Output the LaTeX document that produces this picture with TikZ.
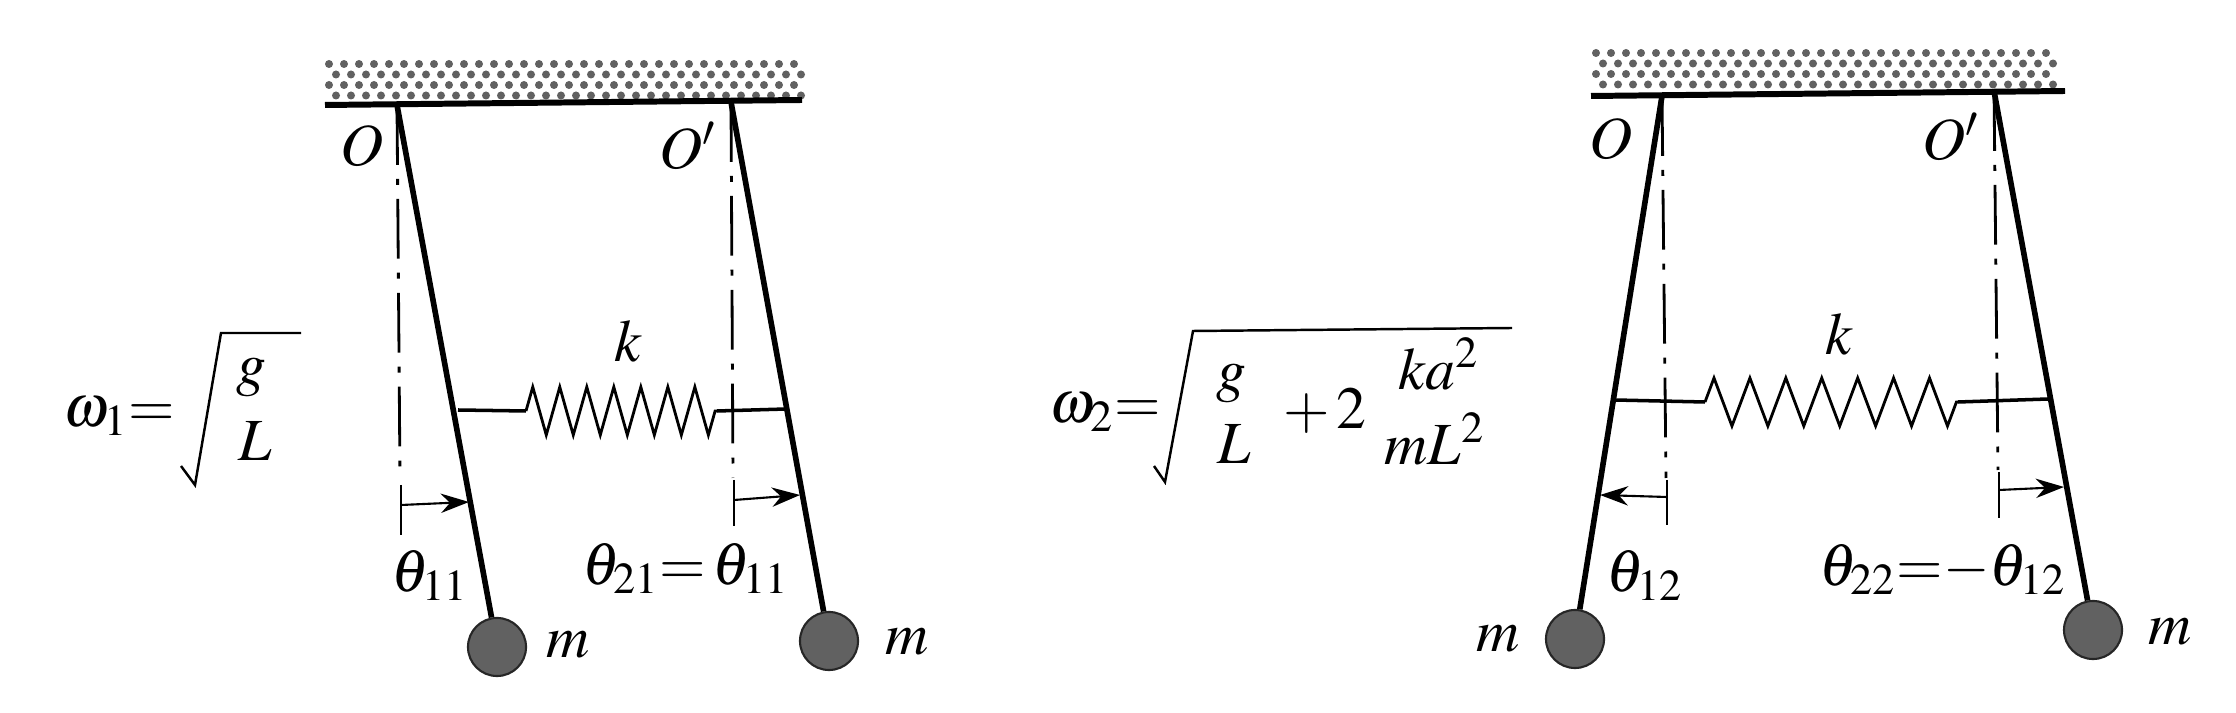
\documentclass[tikz,border=0pt]{standalone}
\usepackage{mathptmx}
\usetikzlibrary{decorations.pathmorphing,arrows.meta}
\tikzset{
  label/.style={inner sep=0pt,font=\fontsize{17}{20}\selectfont},
  rod/.style={line width=1.6pt},
  walldot/.style={fill=black!62},
  wallline/.style={line width=1.7pt},
  bob/.style={circle,draw=black!85,fill=black!62,line width=0.6pt,minimum size=0.58cm,inner sep=0pt},
  axisline/.style={line width=0.8pt,dash pattern=on 17pt off 4pt on 1.7pt off 4pt},
  thinline/.style={line width=0.7pt},
  stubline/.style={line width=1pt},
  springline/.style={line width=0.8pt,decorate,decoration={zigzag,amplitude=0.24cm,segment length=#1}},
  angle/.style={line width=0.6pt,-{Stealth[length=8pt,width=5.5pt]}},
}
\begin{document}
\begin{tikzpicture}[x=0.01cm,y=-0.01cm]
    \useasboundingbox (0,0) rectangle (2236,713);

    % Left pendulums
    \foreach \row/\shift in {0/0,1/7,2/0,3/7}
        \foreach \col in {0,...,31}
            \fill[walldot] ({329+\col*15+\shift},{64+\row*10.5}) circle (4);
    \coordinate (wallAl) at (325,105);
    \coordinate (wallAr) at (802,100);
    \draw[wallline] (wallAl) -- (wallAr);
    \coordinate (pivotA) at (397,105);
    \coordinate (pivotB) at (731,102);
    \node[bob] (bobA) at (497,647) {};
    \node[bob] (bobB) at (829,641) {};
    \draw[rod] (pivotA) -- (bobA);
    \draw[rod] (pivotB) -- (bobB);
    % Vertical lines
    \coordinate (axisAe) at (400,478);
    \coordinate (axisBe) at (733,478);
    \coordinate (tickAt) at (401,485);
    \coordinate (tickAb) at (401,535);
    \coordinate (tickBt) at (734,480);
    \coordinate (tickBb) at (734,526);
    \draw[axisline] (pivotA) -- (axisAe);
    \draw[axisline] (pivotB) -- (axisBe);
    \draw[thinline] (tickAt) -- (tickAb);
    \draw[thinline] (tickBt) -- (tickBb);
    % Spring
    \coordinate (springAa) at (458,410);
    \coordinate (springAl) at (526,411);
    \coordinate (springAr) at (717,411);
    \coordinate (springAb) at (786,409);
    \draw[stubline] (springAa) -- (springAl);
    \draw[springline=0.27cm] (springAl) -- (springAr);
    \draw[stubline] (springAr) -- (springAb);
    % Angles
    \coordinate (arrowAs) at (401,505);
    \coordinate (arrowAe) at (469,502);
    \coordinate (arrowBs) at (734,500);
    \coordinate (arrowBe) at (800,495);
    \draw[angle] (arrowAs) -- (arrowAe);
    \draw[angle] (arrowBs) -- (arrowBe);
    % Labels
    \node[label] (labelOa) at (362,146) {$O$};
    \node[label] (labelOb) at (688,146) {$O'$};
    \node[label] (labelka) at (628,341) {$k$};
    \node[label] (labelma) at (568,645) {$m$};
    \node[label] (labelmb) at (907,642) {$m$};
    \node[label] (thetaa) at (430,575) {$\theta_{11}$};
    \node[label] (thetab) at (686,568) {$\theta_{21}{=}\,\theta_{11}$};
    % First frequency
    \node[label] (omegaa) at (119,416) {$\omega_1{=}$};
    \coordinate (rootAa) at (181,466);
    \coordinate (rootAb) at (195,485);
    \coordinate (rootAc) at (221,333);
    \coordinate (rootAd) at (301,333);
    \draw[thinline] (rootAa) -- (rootAb) -- (rootAc) -- (rootAd);
    \node[label] (fracAn) at (251,378) {$g$};
    \node[label] (fracAd) at (255,441) {$L$};

    % Right pendulums
    \foreach \row/\shift in {0/0,1/7,2/0,3/7}
        \foreach \col in {0,...,30}
            \fill[walldot] ({1596+\col*15+\shift},{53+\row*10.5}) circle (4);
    \coordinate (wallBl) at (1591,96);
    \coordinate (wallBr) at (2065,91);
    \draw[wallline] (wallBl) -- (wallBr);
    \coordinate (pivotC) at (1662,96);
    \coordinate (pivotD) at (1994,91);
    \node[bob] (bobC) at (1575,639) {};
    \node[bob] (bobD) at (2093,630) {};
    \draw[rod] (pivotC) -- (bobC);
    \draw[rod] (pivotD) -- (bobD);
    % Vertical lines
    \coordinate (axisCe) at (1666,478);
    \coordinate (axisDe) at (1998,470);
    \coordinate (tickCt) at (1667,480);
    \coordinate (tickCb) at (1667,525);
    \coordinate (tickDt) at (1999,472);
    \coordinate (tickDb) at (1999,518);
    \draw[axisline] (pivotC) -- (axisCe);
    \draw[axisline] (pivotD) -- (axisDe);
    \draw[thinline] (tickCt) -- (tickCb);
    \draw[thinline] (tickDt) -- (tickDb);
    % Spring
    \coordinate (springBa) at (1615,400);
    \coordinate (springBl) at (1705,402);
    \coordinate (springBr) at (1958,402);
    \coordinate (springBb) at (2048,399);
    \draw[stubline] (springBa) -- (springBl);
    \draw[springline=0.359cm] (springBl) -- (springBr);
    \draw[stubline] (springBr) -- (springBb);
    % Angles
    \coordinate (arrowCs) at (1667,497);
    \coordinate (arrowCe) at (1600,495);
    \coordinate (arrowDs) at (1999,490);
    \coordinate (arrowDe) at (2064,487);
    \draw[angle] (arrowCs) -- (arrowCe);
    \draw[angle] (arrowDs) -- (arrowDe);
    % Labels
    \node[label] (labelOc) at (1611,139) {$O$};
    \node[label] (labelOd) at (1951,137) {$O'$};
    \node[label] (labelkb) at (1839,334) {$k$};
    \node[label] (labelmc) at (1498,639) {$m$};
    \node[label] (labelmd) at (2170,632) {$m$};
    \node[label] (thetac) at (1645,575) {$\theta_{12}$};
    \node[label] (thetad) at (1943,569) {$\theta_{22}{=}{-}\theta_{12}$};
    % Second frequency
    \node[label] (omegab) at (1105,412) {$\omega_2{=}$};
    \coordinate (rootBa) at (1154,466);
    \coordinate (rootBb) at (1165,482);
    \coordinate (rootBc) at (1193,331);
    \coordinate (rootBd) at (1512,328);
    \draw[thinline] (rootBa) -- (rootBb) -- (rootBc) -- (rootBd);
    \node[label] (fracBn) at (1231,384) {$g$};
    \node[label] (fracBd) at (1234,444) {$L$};
    \node[label] (plustwo) at (1325,411) {$+\,2$};
    \node[label] (fracCn) at (1439,364) {$ka^2$};
    \node[label] (fracCd) at (1435,439) {$mL^2$};
\end{tikzpicture}
\end{document}
